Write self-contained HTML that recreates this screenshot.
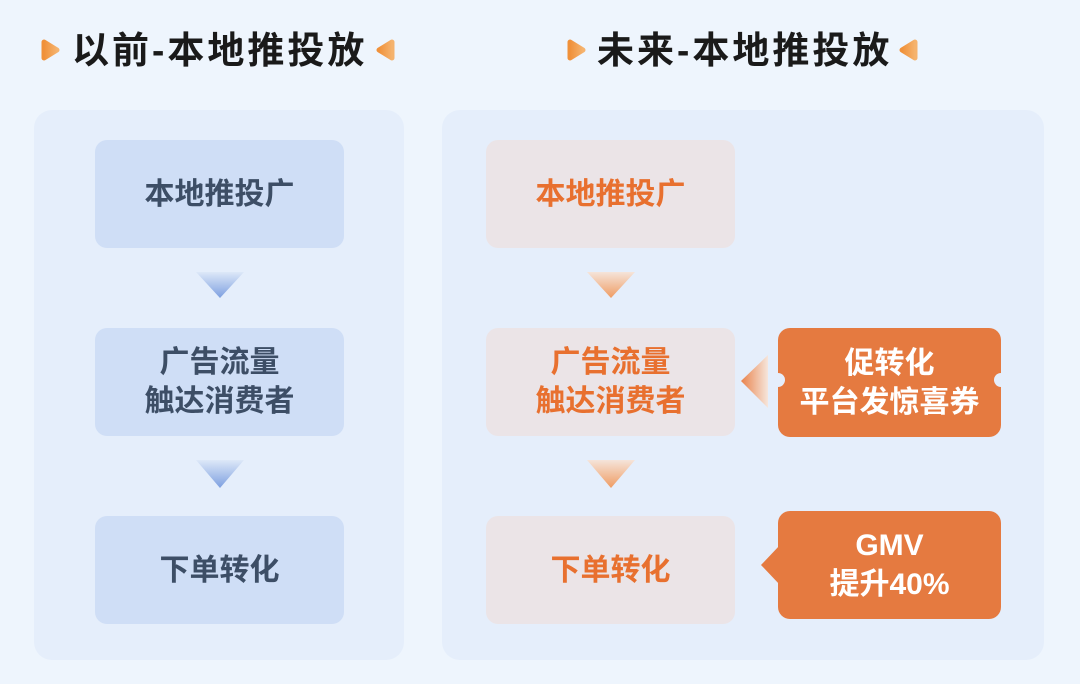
<!DOCTYPE html>
<html><head><meta charset="utf-8"><style>
*{margin:0;padding:0;box-sizing:border-box}
body{width:1080px;height:684px;background:#eef5fd;position:relative;overflow:hidden;font-family:"Liberation Sans","Noto Sans CJK SC",sans-serif;font-weight:bold}
.abs{position:absolute}
.title{font-size:37px;color:#1a1a1a;top:26px;line-height:50px;letter-spacing:3px;white-space:nowrap}
.panel{background:#e5eefb;border-radius:18px}
.box{position:absolute;width:249px;height:108px;border-radius:12px;display:flex;align-items:center;justify-content:center;text-align:center;font-size:30px;line-height:39px;letter-spacing:0px}
.l{left:95px;background:#cfdef6;color:#3d4e66}
.r{left:486px;background:#ebe4e7;color:#e8702f}
.o{left:778px;width:223px;background:#e57a40;color:#fff}
</style></head><body>
<div class="abs panel" style="left:34px;top:110px;width:370px;height:550px"></div>
<div class="abs panel" style="left:442px;top:110px;width:602px;height:550px"></div>

<svg class="abs" style="left:0;top:0" width="1080" height="684">
<defs>
<linearGradient id="mk" x1="0" x2="1"><stop offset="0" stop-color="#f0913a"/><stop offset="1" stop-color="#f5b36e"/></linearGradient>
<linearGradient id="bl" x1="0" y1="0" x2="0" y2="1"><stop offset="0" stop-color="#dde8f8"/><stop offset="1" stop-color="#7d9fe0"/></linearGradient>
<linearGradient id="or" x1="0" y1="0" x2="0" y2="1"><stop offset="0" stop-color="#f5e4da"/><stop offset="1" stop-color="#ef9b62"/></linearGradient>
<linearGradient id="orh" x1="1" y1="0" x2="0" y2="0"><stop offset="0" stop-color="#f6e6dc"/><stop offset="1" stop-color="#e9824a"/></linearGradient>
</defs>
<path d="M44 42 L44 58 L57 50 Z" fill="url(#mk)" stroke="url(#mk)" stroke-width="5" stroke-linejoin="round"/>
<path d="M392 42 L392 58 L379 50 Z" fill="url(#mk)" stroke="url(#mk)" stroke-width="5" stroke-linejoin="round"/>
<path d="M570 42 L570 58 L583 50 Z" fill="url(#mk)" stroke="url(#mk)" stroke-width="5" stroke-linejoin="round"/>
<path d="M915 42 L915 58 L902 50 Z" fill="url(#mk)" stroke="url(#mk)" stroke-width="5" stroke-linejoin="round"/>
<path d="M196 272 L244 272 L220 298 Z" fill="url(#bl)"/>
<path d="M196 460 L244 460 L220 488 Z" fill="url(#bl)"/>
<path d="M587 272 L635 272 L611 298 Z" fill="url(#or)"/>
<path d="M587 460 L635 460 L611 488 Z" fill="url(#or)"/>
<path d="M768 355 L768 408 L741 381 Z" fill="url(#orh)"/>
<path d="M780 545 L780 585 L761 565 Z" fill="#e57a40"/>
</svg>

<div class="abs title" style="left:72px">以前-本地推投放</div>
<div class="abs title" style="left:597px">未来-本地推投放</div>

<div class="box l" style="top:140px">本地推投广</div>
<div class="box l" style="top:328px">广告流量<br>触达消费者</div>
<div class="box l" style="top:516px">下单转化</div>
<div class="box r" style="top:140px">本地推投广</div>
<div class="box r" style="top:328px">广告流量<br>触达消费者</div>
<div class="box r" style="top:516px">下单转化</div>
<div class="box o" style="top:328px;height:109px">促转化<br>平台发惊喜券</div>
<div class="abs" style="left:771px;top:373px;width:14px;height:14px;border-radius:50%;background:#e5eefb"></div>
<div class="abs" style="left:994px;top:373px;width:14px;height:14px;border-radius:50%;background:#e5eefb"></div>
<div class="box o" style="top:511px;height:108px">GMV<br>提升40%</div>
</body></html>
